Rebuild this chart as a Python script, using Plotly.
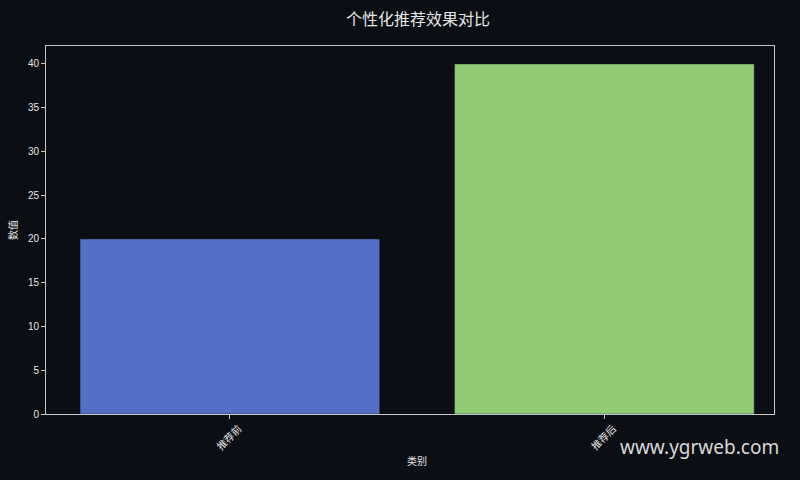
import plotly.graph_objects as go

categories = ["推荐前", "推荐后"]
values = [20, 40]
bar_colors = ["#5470c6", "#91cc75"]

BG = "#0b0e14"
FG = "#e6e6e6"
AXIS = "#c8c8c8"
FONT = "Liberation Sans, Noto Sans CJK SC, sans-serif"

fig = go.Figure(go.Bar(
    x=categories, y=values,
    width=0.8,
    marker=dict(color=bar_colors, line=dict(color="#1c2330", width=0.5)),
))

fig.update_layout(
    width=800, height=480,
    paper_bgcolor=BG, plot_bgcolor=BG,
    margin=dict(l=46, r=26, t=46, b=66),
    font=dict(family=FONT, color=FG, size=10),
    title=dict(text="个性化推荐效果对比", x=0.5225, xanchor="center", y=0.96, yanchor="middle",
               font=dict(size=16, color=FG)),
    showlegend=False,
)

fig.update_xaxes(
    range=[-0.491, 1.453],
    showline=True, linecolor=AXIS, linewidth=1, mirror=True,
    ticks="outside", ticklen=4, tickcolor=AXIS,
    tickangle=-45, ticklabelshift=9,
    showgrid=False, zeroline=False,
)
fig.update_yaxes(
    range=[0, 42.05],
    dtick=5,
    showline=True, linecolor=AXIS, linewidth=1, mirror=True,
    ticks="outside", ticklen=4, tickcolor=AXIS,
    showgrid=False, zeroline=False,
    title=dict(text="数值", font=dict(size=10), standoff=8),
)

# x-axis title, placed slightly right of centre like the original
fig.add_annotation(
    text="类别", xref="paper", yref="paper",
    x=0.5096, y=-0.127, xanchor="center", yanchor="middle",
    showarrow=False, font=dict(size=10, color=FG),
)

fig.add_annotation(
    text="www.ygrweb.com", xref="paper", yref="paper",
    x=1.01, y=-0.09, xanchor="right", yanchor="middle",
    showarrow=False, font=dict(family="Noto Sans, Open Sans, sans-serif", size=19, color="#d8d8d8"),
)

fig.write_html(
    "out.html",
    config={"displayModeBar": False},
    post_script="document.body.style.margin='0';document.body.style.background='#0b0e14';",
)
